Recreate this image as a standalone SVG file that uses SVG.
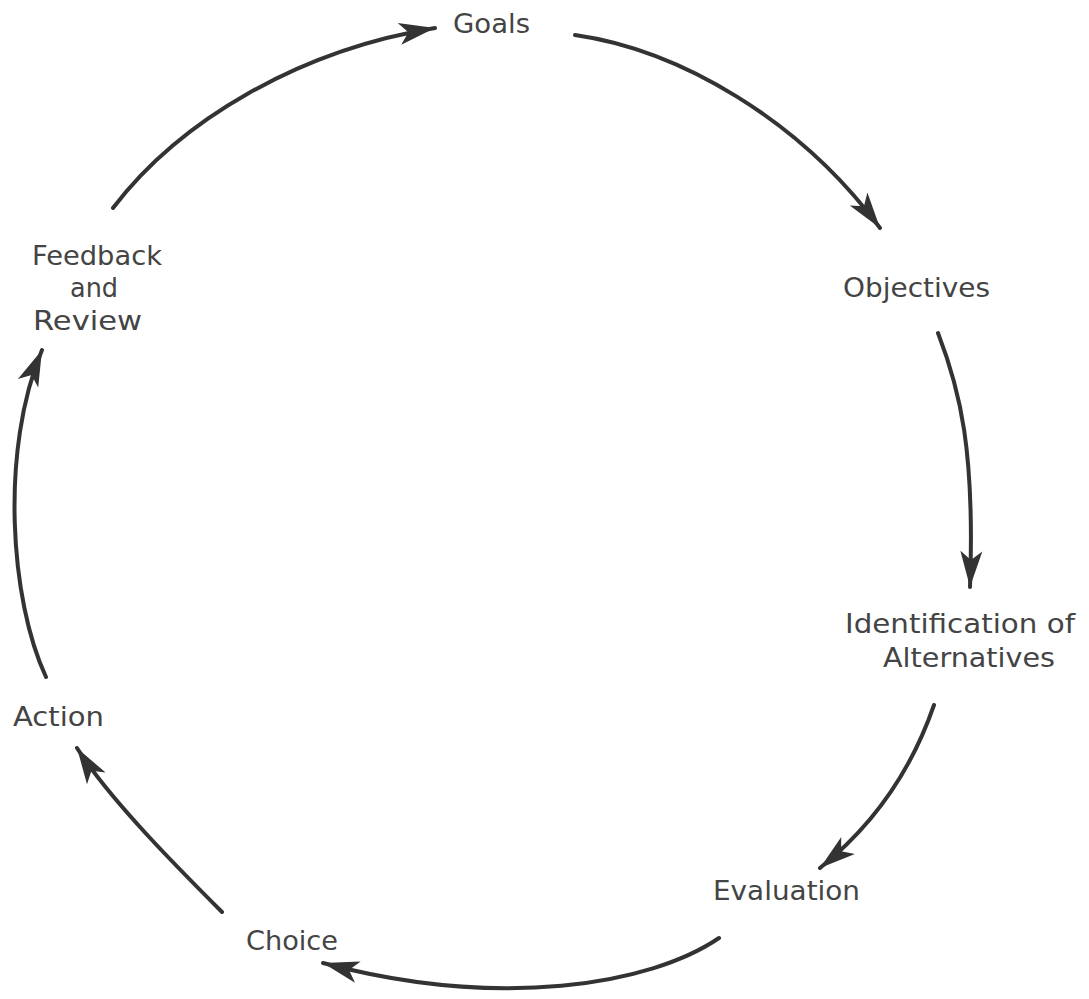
<svg xmlns="http://www.w3.org/2000/svg" width="1089" height="999" viewBox="0 0 1089 999">
  <style>
    .lbl { font-family: "DejaVu Sans", "Liberation Sans", sans-serif; font-size: 27px; fill: #444; }
    .conn { fill: none; stroke: #333; stroke-width: 4; stroke-linecap: round; marker-end: url(#head); }
  </style>
  <defs>
    <marker id="head" markerUnits="userSpaceOnUse" markerWidth="40" markerHeight="26" refX="36" refY="13" orient="auto" viewBox="0 0 40 26">
      <path d="M0,2 L36,13 L0,24 L9,13 Z" fill="#333"/>
    </marker>
  </defs>
  <rect width="1089" height="999" fill="#fff"/>
  <g id="connectors">
    <path class="conn" d="M113,208 C180,120 300,50 435,28"/>
    <path class="conn" d="M575,35 C680,50 800,120 880,228"/>
    <path class="conn" d="M938,333 C960,390 975,450 970,587"/>
    <path class="conn" d="M934,705 C915,760 880,820 820,868"/>
    <path class="conn" d="M719,938 C650,985 500,1010 323,963"/>
    <path class="conn" d="M222,912 C180,870 110,800 77,748"/>
    <path class="conn" d="M46,677 C10,600 0,450 42,350"/>
  </g>
  <g id="goals"><text class="lbl" x="453" y="33" textLength="77" lengthAdjust="spacingAndGlyphs">Goals</text></g>
  <g id="objectives"><text class="lbl" x="843" y="297" textLength="147" lengthAdjust="spacingAndGlyphs">Objectives</text></g>
  <g id="identification">
    <text class="lbl" x="845" y="633" textLength="230" lengthAdjust="spacingAndGlyphs">Identification of</text>
    <text class="lbl" x="883" y="667" textLength="172" lengthAdjust="spacingAndGlyphs">Alternatives</text>
  </g>
  <g id="evaluation"><text class="lbl" x="713" y="900" textLength="147" lengthAdjust="spacingAndGlyphs">Evaluation</text></g>
  <g id="choice"><text class="lbl" x="246" y="950" textLength="92" lengthAdjust="spacingAndGlyphs">Choice</text></g>
  <g id="action"><text class="lbl" x="13" y="726" textLength="91" lengthAdjust="spacingAndGlyphs">Action</text></g>
  <g id="feedback">
    <text class="lbl" x="32" y="265" textLength="130" lengthAdjust="spacingAndGlyphs">Feedback</text>
    <text class="lbl" x="70" y="297" textLength="48" lengthAdjust="spacingAndGlyphs">and</text>
    <text class="lbl" x="33" y="330" textLength="109" lengthAdjust="spacingAndGlyphs">Review</text>
  </g>
</svg>
